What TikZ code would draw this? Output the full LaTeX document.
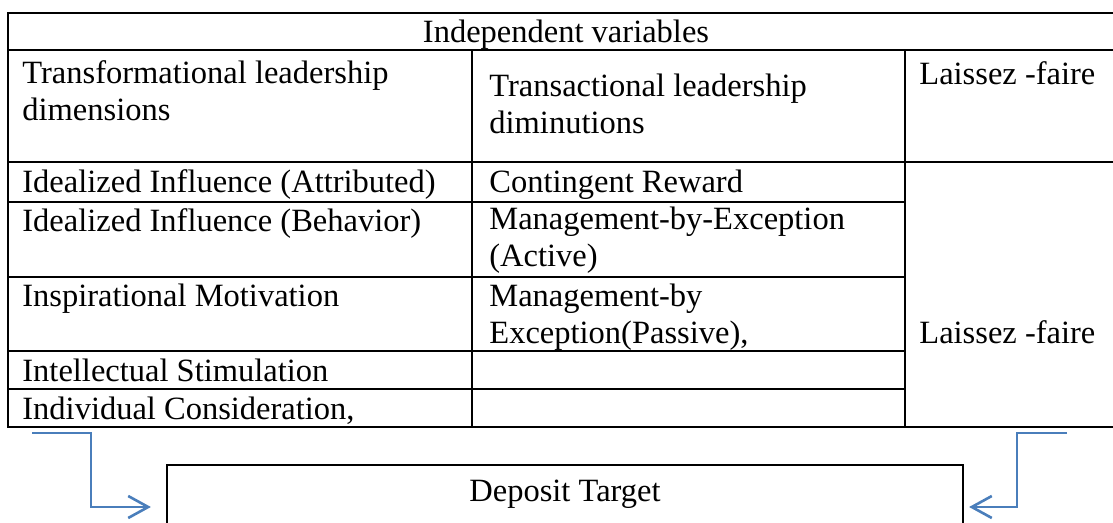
\documentclass[tikz,border=0pt]{standalone}
\usepackage{fontspec}
\setmainfont{Liberation Serif}
\usetikzlibrary{arrows.meta, positioning}
\definecolor{flowblue}{HTML}{4A7EBB}
\tikzstyle{line} = [draw=flowblue, -{Straight Barb[length=10pt,width=11pt]}, line width=1.3pt]

\begin{document}
\begin{tikzpicture}[x=0.5pt, y=-0.5pt]
  \tikzset{
    cell/.style={
      anchor=base west,
      inner sep=0pt,
      align=left,
      font=\fontsize{16.25pt}{18.5pt}\selectfont
    },
    head/.style={cell, anchor=base},
    grid/.style={draw=black, line width=1.1pt},
    target/.style={
      draw=black, line width=1.1pt,
      minimum width=398pt, minimum height=42pt,
      inner sep=0pt
    }
  }

  \useasboundingbox (0,0) rectangle (1113,523);
  \clip (0,0) rectangle (1113,523);

  % table frame and rules
  \draw[grid] (8,13) rectangle (1130,427);
  \foreach \y in {50,162}
    \draw[grid] (8,\y) -- (1130,\y);
  \foreach \y in {202,277,351,389}
    \draw[grid] (8,\y) -- (905,\y);
  \foreach \x in {472,905}
    \draw[grid] (\x,50) -- (\x,427);

  % header row
  \node[head] (indep) at (566,43) {Independent variables};

  % leadership groups (base = last line)
  \node[cell] (transf) at (22,121) {Transformational leadership\\dimensions};
  \node[cell] (transa) at (489,134) {Transactional leadership\\diminutions};
  \node[cell] (laisA) at (919,85) {Laissez -faire};

  % dimensions
  \node[cell] (ia) at (22,193) {Idealized Influence (Attributed)};
  \node[cell] (ib) at (22,232) {Idealized Influence (Behavior)};
  \node[cell] (im) at (22,307) {Inspirational Motivation};
  \node[cell] (is) at (22,381) {Intellectual Stimulation};
  \node[cell] (ic) at (22,419) {Individual Consideration,};
  \node[cell] (cr) at (489,193) {Contingent Reward};
  \node[cell] (mbea) at (489,267) {Management-by-Exception\\(Active)};
  \node[cell] (mbep) at (489,344) {Management-by\\Exception(Passive),};
  \node[cell] (laisB) at (919,344) {Laissez -faire};

  % dependent variable
  \node[target] (dep) at (565,507) {};
  \node[head] (deptxt) at (565,501) {Deposit Target};

  % arrows into the target
  \coordinate (lstart) at (32,433);
  \coordinate (lbend) at (91,507);
  \coordinate (rstart) at (1067,433);
  \coordinate (rbend) at (1017,507);
  \draw[line, shorten >=7.5pt] (lstart) -| (lbend) -- (dep.west);
  \draw[line, shorten >=2.5pt] (rstart) -| (rbend) -- (dep.east);

\end{tikzpicture}
\end{document}
